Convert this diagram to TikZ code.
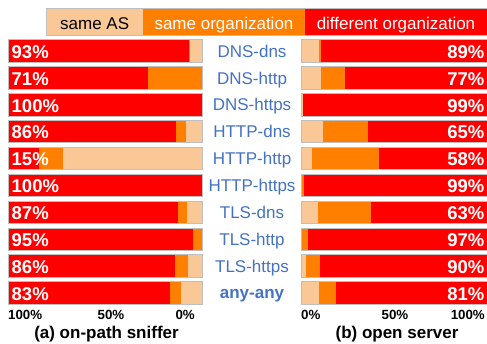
\documentclass[tikz,border=0pt]{standalone}
\usepackage{fontspec}
\setmainfont{Liberation Sans}
\definecolor{diffred}{HTML}{FF0000}
\definecolor{orgorange}{HTML}{FF8000}
\definecolor{aspeach}{HTML}{FAC896}
\definecolor{edgegray}{HTML}{BFBFBF}
\definecolor{catblue}{HTML}{4472C4}
\tikzset{
  barframe/.style={draw=edgegray, line width=1pt},
  legendtext/.style={font=\fontsize{17}{20}\selectfont, inner sep=0pt, anchor=base},
  pcttext/.style={font=\fontsize{18.5}{20}\selectfont\bfseries, text=white, inner sep=0pt},
  cattext/.style={font=\fontsize{17}{20}\selectfont, text=catblue, inner sep=0pt, anchor=base},
  ticktext/.style={font=\fontsize{13.3}{15}\selectfont\bfseries, inner sep=0pt, anchor=base},
  captext/.style={font=\fontsize{17}{20}\selectfont\bfseries, inner sep=0pt, anchor=base},
}
\begin{document}
\begin{tikzpicture}[x=1pt,y=-1pt]
\useasboundingbox (0,0) rectangle (487,344);

% legend strip
\fill[aspeach]   (46.7,9) rectangle (142.7,36);
\fill[orgorange] (142.7,9) rectangle (305,36);
\fill[diffred]   (305,9) rectangle (487,36);
\draw[barframe] (46.7,9) rectangle (487,36);
\node[legendtext] (legAS)  at (94.7,30) {same AS};
\node[legendtext, text=white] (legOrg) at (224,30) {same organization};
\node[legendtext, text=white] (legDiff) at (396,30) {different organization};

% geometry of the two bar columns (scale = width per percent)
\def\Lx{8.5}\def\Lw{194.2}\def\Ls{1.942}
\def\Rx{301}\def\Rw{186}\def\Rs{1.86}
\def\pitch{26.86}\def\bh{22.3}

% left panel: red share from the left, then orange, rest same AS
\foreach \i/\r/\o/\lab in {1/93/0.6/93, 2/71.7/28.3/71, 3/100/0/100, 4/86.1/5.1/86,
    5/15.7/12.4/15, 6/100/0/100, 7/87.5/4.6/87, 8/95/5/95, 9/85.7/6.5/86, 10/83.2/5.8/83}{
  \pgfmathsetmacro\yt{40+(\i-1)*\pitch}
  \pgfmathsetmacro\yb{\yt+\bh}
  \pgfmathsetmacro\xr{\Lx+\Ls*\r}
  \pgfmathsetmacro\xo{\Lx+\Ls*(\r+\o)}
  \fill[aspeach] (\Lx,\yt) rectangle (\Lx+\Lw,\yb);
  \fill[orgorange] (\Lx,\yt) rectangle (\xo,\yb);
  \fill[diffred] (\Lx,\yt) rectangle (\xr,\yb);
  \draw[barframe] (\Lx,\yt) rectangle (\Lx+\Lw,\yb);
  \node[pcttext, anchor=base west] (lp\i) at (11.5,\yt+18.3) {\lab\%};
}

% right panel: same AS from the left, then orange, rest red
\foreach \i/\p/\o/\lab in {1/9.5/1.5/89, 2/10.6/12.9/77, 3/0.9/0/99, 4/12/23.9/65,
    5/6.1/36/58, 6/0.3/1.2/99, 7/9/28.5/63, 8/0/3.6/97, 9/2.5/7.9/90, 10/9.5/9.5/81}{
  \pgfmathsetmacro\yt{40+(\i-1)*\pitch}
  \pgfmathsetmacro\yb{\yt+\bh}
  \pgfmathsetmacro\xp{\Rx+\Rs*\p}
  \pgfmathsetmacro\xo{\Rx+\Rs*(\p+\o)}
  \fill[diffred] (\Rx,\yt) rectangle (\Rx+\Rw,\yb);
  \fill[orgorange] (\Rx,\yt) rectangle (\xo,\yb);
  \fill[aspeach] (\Rx,\yt) rectangle (\xp,\yb);
  \draw[barframe] (\Rx,\yt) rectangle (\Rx+\Rw,\yb);
  \node[pcttext, anchor=base east] (rp\i) at (484.5,\yt+18.3) {\lab\%};
}

% category names between the panels
\foreach \i/\name in {1/DNS-dns, 2/DNS-http, 3/DNS-https, 4/HTTP-dns, 5/HTTP-http,
    6/HTTP-https, 7/TLS-dns, 8/TLS-http, 9/TLS-https, 10/{\bfseries any-any}}{
  \pgfmathsetmacro\yt{40+(\i-1)*\pitch}
  \node[cattext] (cat\i) at (252,\yt+17.2) {\name};
}

% axis ticks
\node[ticktext, anchor=base west] (tl100) at (8,320) {100\%};
\node[ticktext] (tl50) at (111,320) {50\%};
\node[ticktext, anchor=base east] (tl0) at (195,320) {0\%};
\node[ticktext, anchor=base west] (tr0) at (301,320) {0\%};
\node[ticktext] (tr50) at (395,320) {50\%};
\node[ticktext, anchor=base east] (tr100) at (485,320) {100\%};

% panel captions
\node[captext] (capA) at (106.5,338) {(a) on-path sniffer};
\node[captext] (capB) at (397,338) {(b) open server};
\end{tikzpicture}
\end{document}
